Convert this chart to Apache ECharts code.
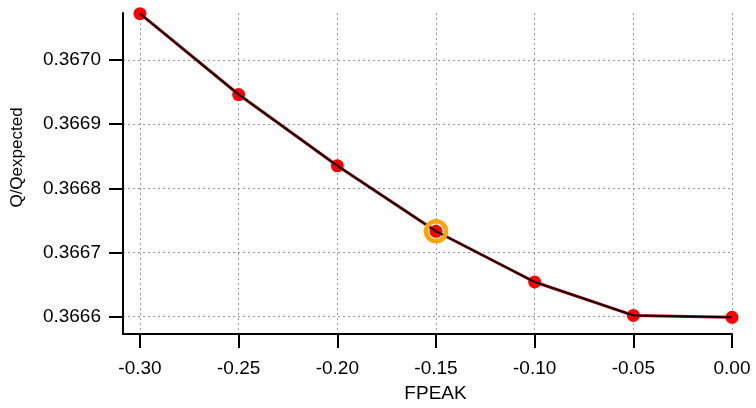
<!DOCTYPE html>
<html>
<head>
<meta charset="utf-8">
<script src="https://cdn.jsdelivr.net/npm/echarts@6/dist/echarts.min.js"></script>
<style>html,body{margin:0;padding:0;background:#fff;}#c{width:756px;height:408px;}</style>
</head>
<body>
<div id="c"></div>
<script>
const fpeak = [-0.30, -0.25, -0.20, -0.15, -0.10, -0.05, 0.00];
const qRatio = [0.367072, 0.366946, 0.366835, 0.366733, 0.366654, 0.366602, 0.366599];
const highlightX = [-0.15];
const highlightY = [0.366733];
const xTicks = [-0.30, -0.25, -0.20, -0.15, -0.10, -0.05, 0.00];
const yTicks = [0.3666, 0.3667, 0.3668, 0.3669, 0.3670];

const pts = fpeak.map((x, i) => [x, qRatio[i]]);
const hl = highlightX.map((x, i) => [x, highlightY[i]]);
const font = 'Liberation Sans, Arial, Helvetica, sans-serif';

const chart = echarts.init(document.getElementById('c'), null, {renderer: 'canvas'});
chart.setOption({
  animation: false,
  backgroundColor: '#fff',
  grid: {left: 123, right: 24, top: 13, bottom: 73, containLabel: false},
  xAxis: {
    type: 'value', min: -0.3086, max: 0,
    name: 'FPEAK', nameLocation: 'middle', nameGap: 50,
    nameTextStyle: {color: '#000', fontSize: 19, fontFamily: font, padding: [0, 0, 0, 16]},
    axisLine: {show: true, onZero: false, lineStyle: {color: '#000', width: 2}},
    axisTick: {show: true, inside: false, length: 14, lineStyle: {color: '#000', width: 2}, customValues: xTicks},
    axisLabel: {color: '#000', fontSize: 19, fontFamily: font, margin: 25, customValues: xTicks,
      formatter: v => (Math.abs(v) < 1e-9 ? 0 : v).toFixed(2)},
    splitLine: {show: true, lineStyle: {color: '#9a9a9a', width: 1, type: [2, 3]}}
  },
  yAxis: {
    type: 'value', min: 0.366573, max: 0.367073,
    name: 'Q/Qexpected', nameLocation: 'middle', nameGap: 97, nameRotate: 90,
    nameTextStyle: {color: '#000', fontSize: 17, fontFamily: font, padding: [0, 0, 0, 32]},
    axisLine: {show: true, onZero: false, lineStyle: {color: '#000', width: 2}},
    axisTick: {show: true, inside: false, length: 14, lineStyle: {color: '#000', width: 2}, customValues: yTicks},
    axisLabel: {color: '#000', fontSize: 19, fontFamily: font, margin: 22, customValues: yTicks,
      formatter: v => v.toFixed(4)},
    splitLine: {show: true, lineStyle: {color: '#9a9a9a', width: 1, type: [2, 3]}}
  },
  series: [
    {type: 'scatter', data: pts, symbol: 'circle', symbolSize: 13, itemStyle: {color: '#ff0000', opacity: 1}, z: 2, silent: true},
    {type: 'line', data: pts, showSymbol: false, lineStyle: {color: '#cc0000', width: 3}, z: 3, silent: true},
    {type: 'line', data: pts, showSymbol: false, lineStyle: {color: '#000', width: 1.8}, z: 4, silent: true},
    {type: 'scatter', data: hl, symbol: 'circle', symbolSize: 20, itemStyle: {color: 'rgba(0,0,0,0)', borderColor: '#ffa500', borderWidth: 4.5, opacity: 1}, z: 5, silent: true}
  ]
});
</script>
</body>
</html>
